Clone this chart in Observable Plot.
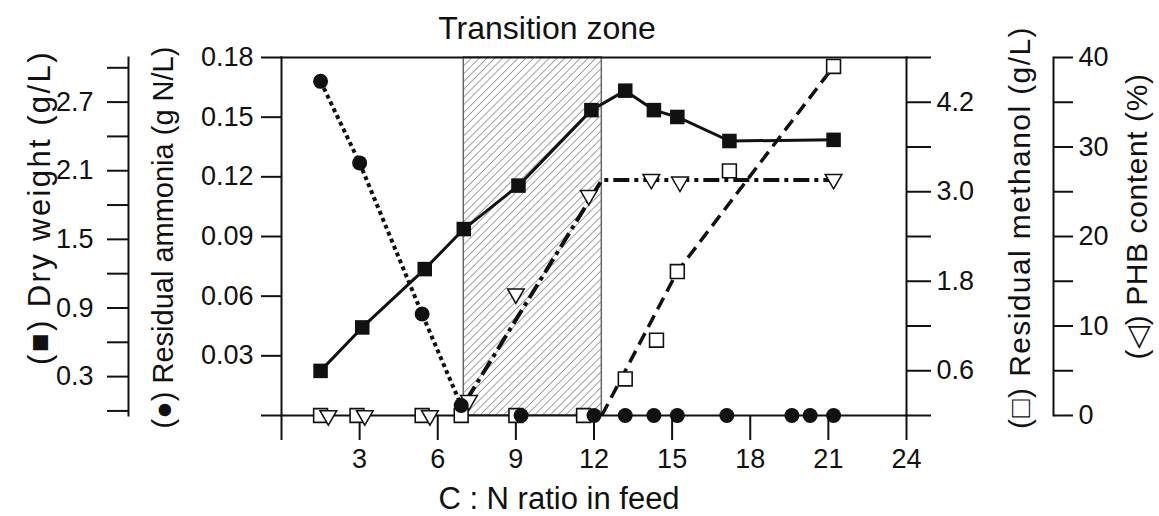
<!DOCTYPE html>
<html>
<head>
<meta charset="utf-8">
<script src="https://cdn.jsdelivr.net/npm/d3@7"></script>
<script src="https://cdn.jsdelivr.net/npm/@observablehq/plot@0.6"></script>
<style>
  html, body { margin: 0; padding: 0; background: #fff; }
  #chart { position: relative; width: 1159px; height: 516px; }
  #chart svg { position: absolute; left: 0; top: 0; }
</style>
</head>
<body>
<div id="chart"></div>
<script>
// ---- data ----
const title = "Transition zone";
const xLabel = "C : N ratio in feed";
const xTicks = [0, 3, 6, 9, 12, 15, 18, 21, 24];
const transitionZone = [7.0, 12.3];

// Dry weight (filled squares, solid line)
const cnDry = [1.5, 3.1, 5.5, 7.0, 9.1, 11.9, 13.2, 14.3, 15.2, 17.2, 21.2];
const dryWeight = [0.35, 0.73, 1.24, 1.59, 1.97, 2.63, 2.80, 2.63, 2.57, 2.36, 2.37];
const dryTicks = [0, 0.3, 0.6, 0.9, 1.2, 1.5, 1.8, 2.1, 2.4, 2.7, 3.0];
const dryLabeled = [0.3, 0.9, 1.5, 2.1, 2.7];

// Residual ammonia (filled circles, dotted line)
const cnAmmonia = [1.5, 3.0, 5.4, 6.9, 9.2, 12.0, 13.2, 14.3, 15.2, 17.1, 19.6, 20.3, 21.2];
const ammonia = [0.168, 0.127, 0.051, 0.005, 0, 0, 0, 0, 0, 0, 0, 0, 0];
const ammoniaTicks = [0, 0.03, 0.06, 0.09, 0.12, 0.15, 0.18];

// Residual methanol (open squares, dashed line)
const cnMethanol = [1.5, 2.9, 5.4, 6.9, 9.0, 11.6, 13.2, 14.4, 15.2, 17.2, 21.2];
const methanol = [0, 0, 0, 0, 0, 0, 0.49, 1.01, 1.93, 3.28, 4.68];
const methanolTrendX = [12.3, 15.2, 21.2];
const methanolTrendY = [0, 1.93, 4.68];
const methanolTicks = [0, 0.6, 1.2, 1.8, 2.4, 3.0, 3.6, 4.2, 4.8];
const methanolLabeled = [0.6, 1.8, 3.0, 4.2];

// PHB content (open down-triangles, dash-dot line)
const cnPhb = [1.8, 3.2, 5.7, 7.2, 9.0, 11.8, 14.2, 15.3, 21.2];
const phb = [0, 0, 0, 1.7, 13.6, 24.6, 26.4, 26.1, 26.4];
const phbTrendX = [7.1, 12.3, 21.2];
const phbTrendY = [1.7, 26.3, 26.3];
const phbTicks = [0, 5, 10, 15, 20, 25, 30, 35, 40];
const phbLabeled = [0, 10, 20, 30, 40];

// ---- helpers ----
const zip = (xs, ys) => xs.map((x, i) => ({x, y: ys[i]}));
const W = 1159, H = 516;
const common = {
  width: W, height: H,
  marginLeft: 281, marginRight: 253, marginTop: 57, marginBottom: 101,
  style: {fontFamily: "'Liberation Sans', Arial, sans-serif", fontSize: "27px", color: "#111", background: "transparent", overflow: "visible"}
};
const xScale = {domain: [0, 24], axis: null};
const downTriangle = {
  draw(ctx, size) {
    const s = Math.sqrt(size * 4 / Math.sqrt(3));
    const h = s * Math.sqrt(3) / 2;
    ctx.moveTo(0, 2 * h / 3);
    ctx.lineTo(s / 2, -h / 3);
    ctx.lineTo(-s / 2, -h / 3);
    ctx.closePath();
  }
};
const tickFont = 27;
const vTitle = (text, anchor, dx, dy, size) =>
  Plot.text([text], {frameAnchor: anchor, dx, dy, rotate: -90, fontSize: size, textAnchor: "middle", lineAnchor: "middle"});
function spaceText(svg, text, spacing) {
  svg.querySelectorAll("text").forEach(t => {
    if (t.textContent === text) t.style.letterSpacing = spacing + "px";
  });
}

const chart = document.getElementById("chart");
function add(svg) { chart.appendChild(svg); return svg; }

const dryTitle = "(■) Dry weight (g/L)";
const ammoniaTitle = "(●) Residual ammonia (g N/L)";
const methanolTitle = "(□) Residual methanol (g/L)";
const phbTitle = "(◁) PHB content (%)";

// ---- base layer: frame, hatch, x axis, ammonia axis ----
const base = Plot.plot({
  ...common,
  x: xScale,
  y: {domain: [0, 0.18], axis: null},
  marks: [
    Plot.rect([{x1: transitionZone[0], x2: transitionZone[1]}], {
      x1: "x1", x2: "x2", fill: "url(#hatch)", stroke: "#666", strokeWidth: 1.5
    }),
    Plot.frame({anchor: "top", strokeWidth: 2}),
    Plot.frame({anchor: "left", strokeWidth: 2}),
    Plot.frame({anchor: "bottom", strokeWidth: 2}),
    Plot.axisX({ticks: xTicks, tickSize: 25, tickPadding: 8, fontSize: tickFont, strokeWidth: 2,
      tickFormat: d => d === 0 ? "" : String(d), label: null}),
    Plot.axisY({ticks: ammoniaTicks, tickSize: 20, tickPadding: 8, fontSize: tickFont, strokeWidth: 2,
      tickFormat: d => d === 0 ? "" : d3.format(".2f")(d), label: null}),
    Plot.text([title], {frameAnchor: "top", dx: -47, dy: -29, fontSize: 32, textAnchor: "middle", lineAnchor: "middle"}),
    Plot.text([xLabel], {frameAnchor: "bottom", dx: -35, dy: 84, fontSize: 31, textAnchor: "middle", lineAnchor: "middle"}),
    vTitle(ammoniaTitle, "left", -118, 1, 29)
  ]
});
base.insertAdjacentHTML("afterbegin",
  `<defs><pattern id="hatch" patternUnits="userSpaceOnUse" width="5.5" height="5.5" patternTransform="rotate(45)">
     <line x1="0" y1="0" x2="0" y2="5.5" stroke="#555" stroke-width="1.1"/></pattern></defs>`);
add(base);

// ---- methanol layer ----
const meLayer = add(Plot.plot({
  ...common,
  x: xScale,
  y: {domain: [0, 4.8], axis: null},
  marks: [
    Plot.frame({anchor: "right", strokeWidth: 2}),
    Plot.axisY({anchor: "right", ticks: methanolTicks, tickSize: 24, tickPadding: 6, fontSize: tickFont, strokeWidth: 2,
      tickFormat: d => methanolLabeled.includes(d) ? d3.format(".1f")(d) : "", label: null}),
    Plot.line(zip(methanolTrendX, methanolTrendY), {x: "x", y: "y", stroke: "#111", strokeWidth: 3.5, strokeDasharray: "13,7", strokeLinecap: "butt"}),
    Plot.dot(zip(cnMethanol, methanol), {x: "x", y: "y", symbol: "square", r: 7.8, fill: "white", stroke: "#111", strokeWidth: 1.6}),
    vTitle(methanolTitle, "right", 114, -9, 30)
  ]
}));
spaceText(meLayer, methanolTitle, 1.4);

// ---- PHB layer ----
const phbLayer = add(Plot.plot({
  ...common,
  x: xScale,
  y: {domain: [0, 40], axis: null},
  marks: [
    Plot.frame({anchor: "right", dx: 147, strokeWidth: 2}),
    Plot.axisY({anchor: "right", dx: 147, ticks: phbTicks, tickSize: 19, tickPadding: 6, fontSize: tickFont, strokeWidth: 2,
      tickFormat: d => phbLabeled.includes(d) ? String(d) : "", label: null}),
    Plot.line(zip(phbTrendX, phbTrendY), {x: "x", y: "y", stroke: "#111", strokeWidth: 4, strokeDasharray: "16,5,4,5", strokeLinecap: "butt"}),
    Plot.dot(zip(cnPhb, phb), {x: "x", y: "y", symbol: downTriangle, r: 6.2, fill: "white", stroke: "#111", strokeWidth: 1.5}),
    vTitle(phbTitle, "right", 231, -20, 30)
  ]
}));
spaceText(phbLayer, phbTitle, 0.6);

// ---- dry weight layer ----
const dwLayer = add(Plot.plot({
  ...common,
  x: xScale,
  y: {domain: [-0.04, 3.09], axis: null},
  marks: [
    Plot.frame({anchor: "left", dx: -153, strokeWidth: 2}),
    Plot.axisY({anchor: "left", dx: -153, ticks: dryTicks, tickSize: 21, tickPadding: 14, fontSize: tickFont, strokeWidth: 2,
      tickFormat: d => dryLabeled.includes(d) ? d3.format(".1f")(d) : "", label: null}),
    Plot.line(zip(cnDry, dryWeight), {x: "x", y: "y", stroke: "#111", strokeWidth: 3}),
    Plot.dot(zip(cnDry, dryWeight), {x: "x", y: "y", symbol: "square", r: 8.2, fill: "#111", stroke: "none"}),
    vTitle(dryTitle, "left", -241, -29, 31)
  ]
}));
spaceText(dwLayer, dryTitle, 2.4);

// ---- ammonia data layer (same scales as base) ----
const ammoniaRows = zip(cnAmmonia, ammonia);
add(Plot.plot({
  ...common,
  x: xScale,
  y: {domain: [0, 0.18], axis: null},
  marks: [
    Plot.line(ammoniaRows.filter(d => d.y > 0), {x: "x", y: "y", stroke: "#111", strokeWidth: 4, strokeDasharray: "4,3.5", strokeLinecap: "butt"}),
    Plot.dot(ammoniaRows, {x: "x", y: "y", r: 7.5, fill: "#111", stroke: "none"})
  ]
}));
</script>
</body>
</html>
